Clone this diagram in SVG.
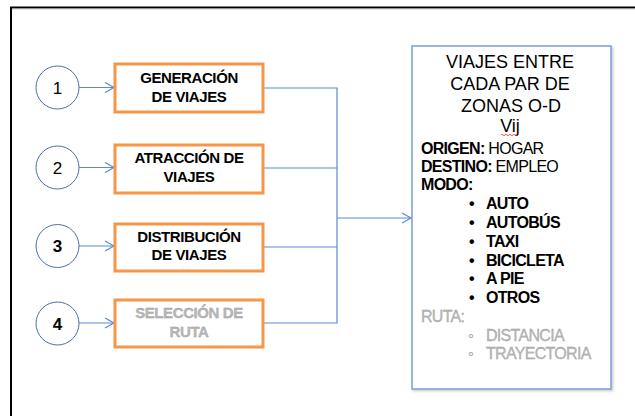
<svg xmlns="http://www.w3.org/2000/svg" width="635" height="416" viewBox="0 0 635 416">
<defs>
<style>
.t{font-family:"Liberation Sans",Arial,sans-serif;fill:#000}
.num{font-size:17px;text-anchor:middle}
.bx{fill:#fff;stroke:#f79646;stroke-width:3}
.cir{fill:#fff;stroke:#4a6fa5;stroke-width:1}
.lbl{font-size:15px;font-weight:bold;text-anchor:middle;letter-spacing:-0.4px}
.con{fill:none;stroke:#5b8ad0;stroke-width:1.2}
.h{font-size:18px;text-anchor:middle}
.b{font-size:16px;letter-spacing:-0.7px}
.g{fill:#b8b8b8;stroke:#9a9a9a;stroke-width:0.3}
</style>
<marker id="ah" markerWidth="12" markerHeight="12" refX="10" refY="6" orient="auto" markerUnits="userSpaceOnUse">
<path d="M1,1 L10,6 L1,11" fill="none" stroke="#5b8ad0" stroke-width="1.2"/>
</marker>
<filter id="sh" x="-5%" y="-5%" width="115%" height="115%">
<feDropShadow dx="1.5" dy="1.5" stdDeviation="1" flood-color="#000" flood-opacity="0.2"/>
</filter>
</defs>
<rect width="635" height="416" fill="#fff"/>
<g id="frame">
<line x1="10" y1="7.5" x2="635" y2="7.5" stroke="#000" stroke-width="2"/>
<line x1="635" y1="9" x2="10" y2="9" stroke="#bbb" stroke-width="0.8"/>
<line x1="11" y1="7" x2="11" y2="416" stroke="#000" stroke-width="2"/>
</g>
<g id="connectors">
<line class="con" x1="79" y1="87.5" x2="114" y2="87.5" marker-end="url(#ah)"/>
<line class="con" x1="79" y1="167.5" x2="114" y2="167.5" marker-end="url(#ah)"/>
<line class="con" x1="79" y1="246" x2="114" y2="246" marker-end="url(#ah)"/>
<line class="con" x1="79" y1="323" x2="114" y2="323" marker-end="url(#ah)"/>
<path class="con" d="M263,88 H337 V323 H263 M263,168 H337 M263,247 H337"/>
<line class="con" x1="337" y1="218" x2="411" y2="218" marker-end="url(#ah)"/>
</g>
<g id="c1"><circle class="cir" cx="57.5" cy="87.5" r="21.5"/><text class="t num" x="57.5" y="93.5">1</text></g>
<g id="c2"><circle class="cir" cx="57.5" cy="167.5" r="21.5"/><text class="t num" x="57.5" y="173.5">2</text></g>
<g id="c3"><circle class="cir" cx="57.5" cy="246" r="21.5"/><text class="t num" x="57.5" y="252" font-weight="bold">3</text></g>
<g id="c4"><circle class="cir" cx="57.5" cy="323.5" r="21.5"/><text class="t num" x="57.5" y="329.5" font-weight="bold">4</text></g>
<g id="n1"><rect class="bx" x="115" y="64" width="148" height="48"/>
<text class="t lbl" x="189" y="83">GENERACIÓN</text><text class="t lbl" x="189" y="102">DE VIAJES</text></g>
<g id="n2"><rect class="bx" x="115" y="145" width="148" height="48"/>
<text class="t lbl" x="189" y="163">ATRACCIÓN  DE</text><text class="t lbl" x="189" y="182">VIAJES</text></g>
<g id="n3"><rect class="bx" x="115" y="224" width="148" height="47"/>
<text class="t lbl" x="189" y="242">DISTRIBUCIÓN</text><text class="t lbl" x="189" y="260">DE VIAJES</text></g>
<g id="n4"><rect class="bx" x="115" y="300" width="148" height="47"/>
<text class="t lbl g" x="189" y="318" font-weight="normal">SELECCIÓN  DE</text><text class="t lbl g" x="189" y="337" font-weight="normal">RUTA</text></g>
<g id="n5">
<rect x="412" y="46" width="199" height="343" fill="#fff" stroke="#7a9fd4" stroke-width="1.5" filter="url(#sh)"/>
<text class="t h" x="510" y="68">VIAJES ENTRE</text>
<text class="t h" x="510" y="90">CADA PAR DE</text>
<text class="t h" x="511" y="112">ZONAS O-D</text>
<text class="t h" x="510" y="132">Vij</text>
<path d="M501,135 q1,-1.5 2,0 t2,0 t2,0 t2,0 t2,0 t2,0 t2,0 t2,0" fill="none" stroke="#e03030" stroke-width="0.8"/>
<text class="t b" x="421" y="154"><tspan font-weight="bold">ORIGEN:</tspan> HOGAR</text>
<text class="t b" x="421" y="172"><tspan font-weight="bold">DESTINO:</tspan> EMPLEO</text>
<text class="t b" x="421" y="190" font-weight="bold">MODO:</text>
<g class="t b" font-weight="bold">
<text x="469" y="209">•</text><text x="486" y="209">AUTO</text>
<text x="469" y="228">•</text><text x="486" y="228">AUTOBÚS</text>
<text x="469" y="247">•</text><text x="486" y="247">TAXI</text>
<text x="469" y="266">•</text><text x="486" y="266">BICICLETA</text>
<text x="469" y="284">•</text><text x="486" y="284">A PIE</text>
<text x="469" y="303">•</text><text x="486" y="303">OTROS</text>
</g>
<text class="t b g" x="421" y="322">RUTA:</text>
<text class="t b g" x="468" y="341" font-size="11">◦</text><text class="t b g" x="486" y="341">DISTANCIA</text>
<text class="t b g" x="468" y="359" font-size="11">◦</text><text class="t b g" x="486" y="359">TRAYECTORIA</text>
</g>
</svg>
